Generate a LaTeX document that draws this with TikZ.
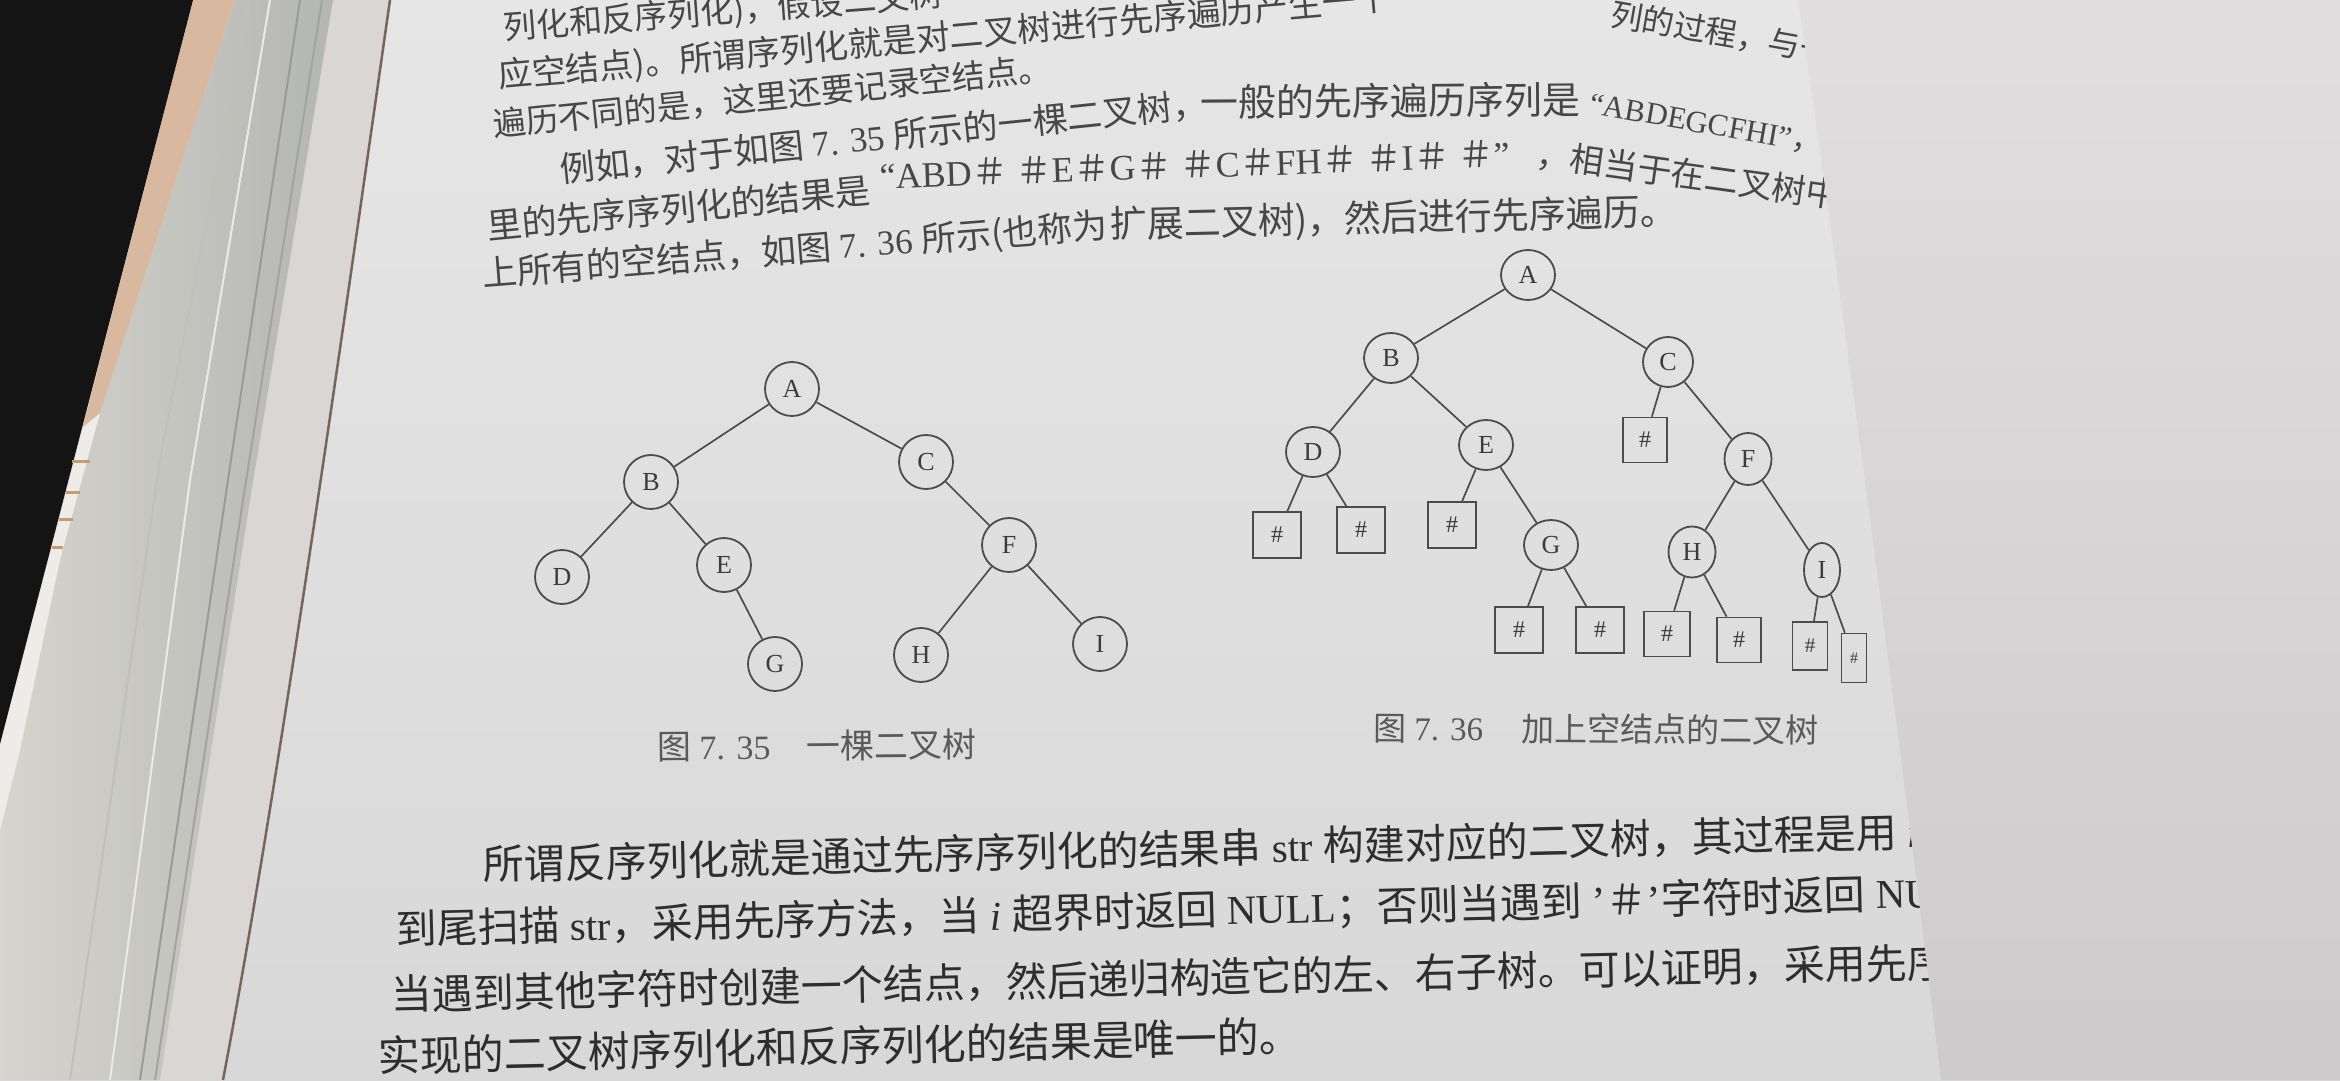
\documentclass[tikz,border=0pt]{standalone}
\usepackage{fontspec}
\setmainfont{Liberation Serif}
\newfontfamily\cjk{Noto Sans CJK SC}
\usetikzlibrary{shapes.geometric}
\definecolor{pagetop}{HTML}{E6E6E6}
\definecolor{pagebot}{HTML}{D8D8D8}
\definecolor{stackl}{HTML}{D6D4CF}
\definecolor{stackr}{HTML}{B4B6B2}
\definecolor{margc}{HTML}{DAD6D3}
\definecolor{peach}{HTML}{D9B8A0}
\definecolor{deskc}{HTML}{141414}
\definecolor{edgec}{HTML}{76655C}
\definecolor{rtop}{HTML}{E0DEDF}
\definecolor{rbot}{HTML}{CECBCC}
\definecolor{topc}{HTML}{474747}
\definecolor{botc}{HTML}{2E2E2E}
\definecolor{capc}{HTML}{5A5A5A}
\definecolor{linec}{HTML}{4C4C4C}
\definecolor{nodec}{HTML}{3C3C3C}
\definecolor{tickc}{HTML}{C89A70}
\tikzset{
  fsz/.style={font=\fontsize{#1}{#1}\selectfont},
  toptext/.style={anchor=base west, inner sep=0pt, text=topc},
  bottext/.style={anchor=base west, inner sep=0pt, text=botc},
  captext/.style={anchor=base west, inner sep=0pt, text=capc},
  tone/.style={circle, draw=linec, line width=1.8pt, minimum size=54pt, inner sep=0pt, fsz=26, text=nodec},
  ttwo/.style={ellipse, draw=linec, line width=1.8pt, minimum width=54pt, minimum height=50pt, inner sep=0pt, fsz=26, text=nodec},
  sq/.style={rectangle, draw=linec, line width=1.6pt, minimum width=48pt, minimum height=46pt, inner sep=0pt, fsz=24, text=nodec},
  edge/.style={draw=linec, line width=1.7pt},
  streak/.style={draw=#1, line width=2pt}
}
\begin{document}
\begin{tikzpicture}[x=1pt,y=1pt]
\useasboundingbox (0,0) rectangle (2340,1080);
\clip (0,0) rectangle (2340,1080);
% page
\shade[top color=pagetop, bottom color=pagebot] (0,0) rectangle (2340,1080);
% margin strip between page edges and the page border line
\fill[margc] (333,1080) -- (390,1080) .. controls (350,800) and (280,300) .. (223,0) -- (160,0) -- (250,580) -- cycle;
% page-edge stack
\shade[left color=stackl, right color=stackr] (235,1080) -- (333,1080) -- (250,580) -- (160,0) -- (0,0) -- (0,336) -- (83,653) -- (100,667) -- cycle;
\fill[white!55!stackl] (0,336) -- (83,653) -- (100,667) -- (60,520) -- (20,330) -- (0,250) -- cycle;
\draw[streak=stackr!85!black] (300,1080) -- (225,580) -- (140,0);
\draw[streak=white!50!stackl] (270,1080) -- (190,600) -- (110,0);
\draw[streak=stackr!90!black] (322,1080) -- (243,580) -- (155,0);
\draw[streak=stackl!90!black] (250,1080) -- (160,620) -- (70,0);
\fill[peach] (193,1080) -- (235,1080) -- (100,667) -- (83,653) -- cycle;
\fill[deskc] (0,1080) -- (193,1080) -- (0,336) -- cycle;
\draw[tickc, line width=3pt] (72,618) -- (90,618) (66,587) -- (80,587) (59,560) -- (73,560) (52,532) -- (63,532);
\draw[edgec, line width=2.5pt] (390,1080) .. controls (350,800) and (280,300) .. (223,0);

% upper text
\node[toptext, fsz=33, rotate=4.4] (l1) at (504,1040) {\cjk 列化和反序列化)，假设二叉树};
\node[toptext, fsz=34, rotate=5.0] (l2a) at (499,992) {\cjk 应空结点)。所谓序列化就是对二叉树进行先序遍历产生一个};
\node[toptext, fsz=32, rotate=-10] (l2b) at (1609,1055) {\cjk 列的过程，与一般先序};
\node[toptext, fsz=33, rotate=5.8] (l3) at (494,943) {\cjk 遍历不同的是，这里还要记录空结点。};
\node[toptext, fsz=35, rotate=5.9] (l4a) at (561,897) {{\cjk 例如，对于如图} 7. 35 {\cjk 所示的一棵二叉树，}};
\node[toptext, fsz=38, rotate=0.5] (l4b) at (1200,963) {\cjk 一般的先序遍历序列是};
\node[toptext, fsz=31, rotate=-10] (l4c) at (1588,967) {“ABDEGCFHI”{\cjk ，而这里}};
\node[toptext, fsz=35, rotate=5.5] (l5a) at (488,840) {\cjk 里的先序序列化的结果是};
\node[toptext, fsz=36, rotate=2] (l5b) at (880,891) {“ABD{\cjk ＃ ＃}E{\cjk ＃}G{\cjk ＃ ＃}C{\cjk ＃}FH{\cjk ＃ ＃}I{\cjk ＃ ＃}”};
\node[toptext, fsz=34, rotate=-8] (l5c) at (1535,914) {\cjk ，相当于在二叉树中};
\node[toptext, fsz=35, rotate=4.5] (l6a) at (483,793) {{\cjk 上所有的空结点，如图} 7. 36 {\cjk 所示(也称为}};
\node[toptext, fsz=37, rotate=1.3] (l6b) at (1110,842) {\cjk 扩展二叉树)，然后进行先序遍历。};

% tree 1
\node[tone] (pA) at (792,691) {A};
\node[tone] (pB) at (651,598) {B};
\node[tone] (pC) at (926,618) {C};
\node[tone] (pD) at (562,503) {D};
\node[tone] (pE) at (724,515) {E};
\node[tone] (pF) at (1009,535) {F};
\node[tone] (pG) at (775,416) {G};
\node[tone] (pH) at (921,425) {H};
\node[tone] (pI) at (1100,436) {I};
\draw[edge] (pA) -- (pB);
\draw[edge] (pA) -- (pC);
\draw[edge] (pB) -- (pD);
\draw[edge] (pB) -- (pE);
\draw[edge] (pE) -- (pG);
\draw[edge] (pC) -- (pF);
\draw[edge] (pF) -- (pH);
\draw[edge] (pF) -- (pI);
\node[captext, fsz=34, rotate=0.5] (cap1) at (657,320) {{\cjk 图} 7. 35\hspace{36pt}{\cjk 一棵二叉树}};

% tree 2
\node[ttwo] (qA) at (1528,805) {A};
\node[ttwo] (qB) at (1391,722) {B};
\node[ttwo, minimum width=50pt] (qC) at (1668,718) {C};
\node[ttwo] (qD) at (1313,628) {D};
\node[ttwo] (qE) at (1486,635) {E};
\node[ttwo, minimum width=47pt, minimum height=52pt] (qF) at (1748,621) {F};
\node[ttwo] (qG) at (1551,535) {G};
\node[ttwo, minimum width=47pt, minimum height=51pt] (qH) at (1692,528) {H};
\node[ttwo, minimum width=36pt, minimum height=54pt] (qI) at (1822,510) {I};
\node[sq, minimum width=44pt, minimum height=45pt] (nC) at (1645,640) {\#};
\node[sq] (nD1) at (1277,545) {\#};
\node[sq] (nD2) at (1361,550) {\#};
\node[sq] (nE1) at (1452,555) {\#};
\node[sq] (nG1) at (1519,450) {\#};
\node[sq] (nG2) at (1600,450) {\#};
\node[sq, minimum width=46pt, minimum height=45pt] (nH1) at (1667,446) {\#};
\node[sq, minimum width=44pt, minimum height=45pt] (nH2) at (1739,440) {\#};
\node[sq, minimum width=35pt, minimum height=48pt, fsz=21] (nI1) at (1810,434) {\#};
\node[sq, minimum width=25pt, minimum height=49pt, fsz=16] (nI2) at (1854,422) {\#};
\draw[edge] (qA) -- (qB);
\draw[edge] (qA) -- (qC);
\draw[edge] (qB) -- (qD);
\draw[edge] (qB) -- (qE);
\draw[edge] (qD) -- (nD1);
\draw[edge] (qD) -- (nD2);
\draw[edge] (qE) -- (nE1);
\draw[edge] (qE) -- (qG);
\draw[edge] (qG) -- (nG1);
\draw[edge] (qG) -- (nG2);
\draw[edge] (qC) -- (nC);
\draw[edge] (qC) -- (qF);
\draw[edge] (qF) -- (qH);
\draw[edge] (qF) -- (qI);
\draw[edge] (qH) -- (nH1);
\draw[edge] (qH) -- (nH2);
\draw[edge] (qI) -- (nI1);
\draw[edge] (qI) -- (nI2);
\node[captext, fsz=33, rotate=-0.4] (cap2) at (1373,340) {{\cjk 图} 7. 36\hspace{38pt}{\cjk 加上空结点的二叉树}};

% lower paragraph
\node[bottext, fsz=41, rotate=1.3] (b1) at (483,200) {{\cjk 所谓反序列化就是通过先序序列化的结果串} str {\cjk 构建对应的二叉树，其过程是用} \textit{i} {\cjk 从头}};
\node[bottext, fsz=41, rotate=1.4] (b2) at (396,135) {{\cjk 到尾扫描} str{\cjk ，采用先序方法，当} \textit{i} {\cjk 超界时返回} NULL{\cjk ；否则当遇到} '{\cjk ＃}'{\cjk 字符时返回} NULL{\cjk ，}};
\node[bottext, fsz=41, rotate=1.2] (b3) at (391,70) {\cjk 当遇到其他字符时创建一个结点，然后递归构造它的左、右子树。可以证明，采用先序遍历};
\node[bottext, fsz=42, rotate=1.25] (b4) at (378,8) {\cjk 实现的二叉树序列化和反序列化的结果是唯一的。};

% facing page (right)
\shade[top color=rtop, bottom color=rbot] (1798,1080) .. controls (1830,870) and (1890,420) .. (1941,0) -- (2340,0) -- (2340,1080) -- cycle;
\end{tikzpicture}
\end{document}
